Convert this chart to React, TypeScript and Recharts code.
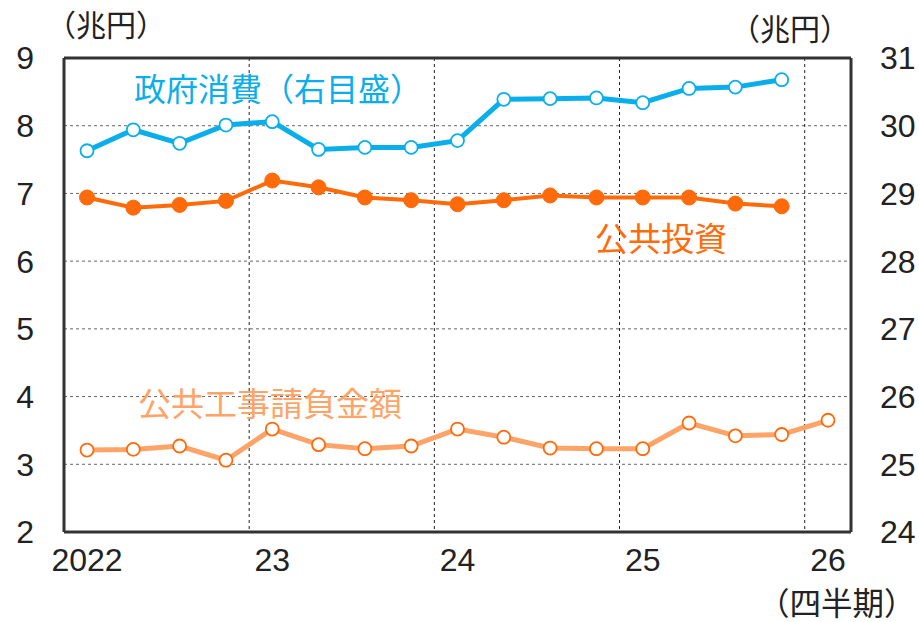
import React from "react";
import { LineChart, Line, XAxis, YAxis, CartesianGrid, ReferenceLine } from "recharts";

// 2022Q1 .. 2026Q1
const quarters = [
  "2022Q1", "2022Q2", "2022Q3", "2022Q4",
  "2023Q1", "2023Q2", "2023Q3", "2023Q4",
  "2024Q1", "2024Q2", "2024Q3", "2024Q4",
  "2025Q1", "2025Q2", "2025Q3", "2025Q4",
  "2026Q1",
];
const tickLabels = ["2022", "", "", "", "23", "", "", "", "24", "", "", "", "25", "", "", "", "26"];
const yearStarts = ["2023Q1", "2024Q1", "2025Q1", "2026Q1"];

// 政府消費（右目盛, 兆円）
const govConsumption = [
  29.63, 29.94, 29.74, 30.01, 30.06, 29.65, 29.68, 29.68,
  29.78, 30.39, 30.4, 30.41, 30.34, 30.55, 30.57, 30.68, null,
];
// 公共投資（兆円）
const publicInvestment = [
  6.94, 6.79, 6.83, 6.89, 7.19, 7.09, 6.94, 6.9,
  6.84, 6.9, 6.97, 6.94, 6.94, 6.94, 6.85, 6.81, null,
];
// 公共工事請負金額（兆円）
const publicWorks = [
  3.21, 3.22, 3.27, 3.06, 3.52, 3.29, 3.23, 3.27,
  3.52, 3.4, 3.24, 3.23, 3.23, 3.61, 3.42, 3.44, 3.65,
];

const leftTicks = [2, 3, 4, 5, 6, 7, 8, 9];
const rightTicks = [24, 25, 26, 27, 28, 29, 30, 31];

const data = quarters.map((q, i) => ({
  q,
  gov: govConsumption[i],
  inv: publicInvestment[i],
  works: publicWorks[i],
}));

const BLUE = "#0AAEEA";
const ORANGE = "#FF6A0A";
const LIGHT = "#FFA468";
const INK = "#222";
const CJK = '"Noto Sans CJK JP", "Noto Sans", sans-serif';
const NUM = '"Liberation Sans", Arial, sans-serif';

const tickStyle = { fontSize: 32, fill: INK, fontFamily: NUM };

// year boundaries: halfway between the Q4 point and the next Q1 point
const yearGrid = ({ xAxis, offset }: any) =>
  yearStarts.map((q) => {
    const i = quarters.indexOf(q);
    if (xAxis && typeof xAxis.scale === "function") {
      return (xAxis.scale(quarters[i - 1]) + xAxis.scale(quarters[i])) / 2;
    }
    return offset.left + (i / quarters.length) * offset.width;
  });

const Note = ({ left, top, size, color, children }: any) => (
  <div
    style={{
      position: "absolute",
      left,
      top,
      fontSize: size,
      color,
      fontFamily: CJK,
      lineHeight: 1,
      whiteSpace: "nowrap",
    }}
  >
    {children}
  </div>
);

export default function App() {
  return (
    <div style={{ position: "absolute", left: 0, top: 0, width: 919, height: 622, background: "#fff" }}>
      <LineChart width={919} height={622} data={data} margin={{ top: 58, right: 0, bottom: 0, left: 0 }}>
        <CartesianGrid yAxisId="left" vertical={false} stroke="#666" strokeDasharray="3 3" />
        <CartesianGrid
          yAxisId="left"
          horizontal={false}
          verticalCoordinatesGenerator={yearGrid}
          stroke="#222"
          strokeDasharray="3 3"
        />
        <XAxis
          dataKey="q"
          height={90}
          interval={0}
          padding={{ left: 23, right: 23 }}
          tickLine={false}
          tickSize={0}
          tickMargin={16}
          tickFormatter={(v: string) => tickLabels[quarters.indexOf(v)]}
          tick={tickStyle}
          axisLine={{ stroke: "#333", strokeWidth: 3 }}
        />
        <YAxis
          yAxisId="left"
          width={64}
          domain={[2, 9]}
          ticks={leftTicks}
          tickLine={false}
          tickSize={0}
          tickMargin={30}
          tick={tickStyle}
          axisLine={{ stroke: "#333", strokeWidth: 3 }}
        />
        <YAxis
          yAxisId="right"
          orientation="right"
          width={68}
          domain={[24, 31]}
          ticks={rightTicks}
          tickLine={false}
          tickSize={0}
          tickMargin={29}
          tick={tickStyle}
          axisLine={{ stroke: "#333", strokeWidth: 3 }}
        />
        <ReferenceLine y={9} yAxisId="left" stroke="#333" strokeWidth={3} />
        <Line
          yAxisId="left"
          dataKey="works"
          stroke={LIGHT}
          strokeWidth={5}
          dot={{ r: 6.5, fill: "#fff", stroke: ORANGE, strokeWidth: 1.8 }}
          isAnimationActive={false}
        />
        <Line
          yAxisId="left"
          dataKey="inv"
          stroke={ORANGE}
          strokeWidth={4}
          dot={{ r: 7.5, fill: ORANGE, stroke: ORANGE, strokeWidth: 1 }}
          isAnimationActive={false}
        />
        <Line
          yAxisId="right"
          dataKey="gov"
          stroke={BLUE}
          strokeWidth={5}
          dot={{ r: 6.5, fill: "#fff", stroke: BLUE, strokeWidth: 1.8 }}
          isAnimationActive={false}
        />
      </LineChart>
      <Note left={46} top={8} size={30} color={INK}>（兆円）</Note>
      <Note left={730} top={12} size={30} color={INK}>（兆円）</Note>
      <Note left={758} top={586} size={31.5} color={INK}>（四半期）</Note>
      <Note left={134} top={71} size={32} color={BLUE}>政府消費（右目盛）</Note>
      <Note left={595} top={221} size={33} color={ORANGE}>公共投資</Note>
      <Note left={138} top={386} size={33} color={LIGHT}>公共工事請負金額</Note>
    </div>
  );
}
